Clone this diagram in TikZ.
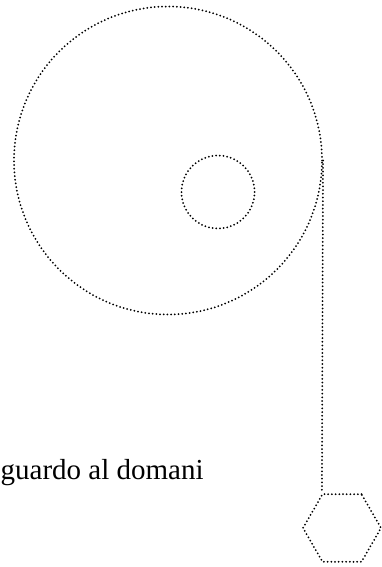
\documentclass[tikz,border=0pt]{standalone}
\usepackage{fontspec}
\setmainfont{Liberation Serif}
\usetikzlibrary{shapes.geometric}

\tikzset{
  dotline/.style={line width=2pt, line cap=round, dash pattern=on 0pt off 3.7pt},
}

\begin{document}
\begin{tikzpicture}[x=1pt, y=-1pt]

  % page frame
  \useasboundingbox (0,0) rectangle (382,567);

  % wheel and hub
  \node[circle, dotline, draw, minimum size=308pt, inner sep=0pt] (wheel) at (168,160.5) {};
  \node[circle, dotline, draw, minimum size=73pt, inner sep=0pt] (hub) at (218,192) {};

  % hanging weight
  \node[regular polygon, regular polygon sides=6, dotline, draw,
        minimum size=78pt, inner sep=0pt] (weight) at (342,528) {};

  % rope
  \draw[dotline] (wheel.east) -- (weight.corner 2);

  % caption
  \node[anchor=base west, inner sep=0pt, font=\fontsize{29}{34}\selectfont] (motto) at (0.5,479) {guardo al domani};

\end{tikzpicture}
\end{document}
